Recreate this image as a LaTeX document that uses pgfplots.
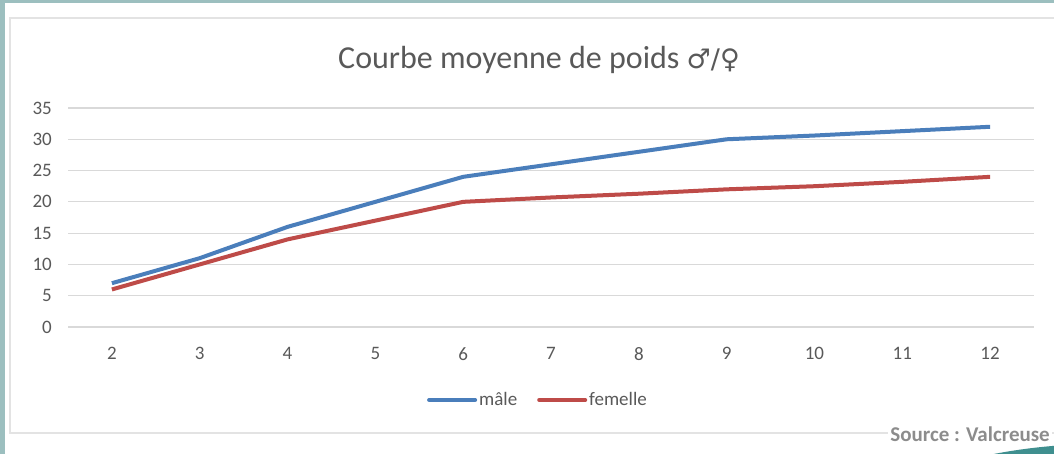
\documentclass[border=0pt]{standalone}
\usepackage{pgfplots}
\pgfplotsset{compat=1.18}
\usepackage{fontspec}
\setmainfont{Carlito}
\newfontfamily\symfont{DejaVu Sans}
\definecolor{bgteal}{HTML}{9CBFBF}
\definecolor{darkteal}{HTML}{3F8F8F}
\definecolor{txtgray}{HTML}{595959}
\definecolor{gridgray}{HTML}{D9D9D9}
\definecolor{borderg}{HTML}{E3E3E3}
\definecolor{mblue}{HTML}{4A7EBB}
\definecolor{fred}{HTML}{BE4B48}
\definecolor{srcgray}{HTML}{8C8C8C}
\begin{document}
\begin{tikzpicture}[x=1pt,y=1pt]
\path[use as bounding box] (0,0) rectangle (1054,454);
\fill[bgteal] (0,0) rectangle (1054,454);
\fill[white] (5,0) rectangle (1054,451);
\draw[borderg, line width=1.5pt] (1056,436) -- (10,436) -- (10,21) -- (1056,21);
\fill[darkteal] (1100,-553) circle (563);
\node[anchor=base, text=txtgray, font=\fontsize{32}{36}\selectfont] at (539,385) {Courbe moyenne de poids {\symfont\fontsize{27}{30}\selectfont ♂/♀}};
\begin{axis}[
  at={(68pt,127pt)}, anchor=south west,
  scale only axis, width=966pt, height=219pt,
  xmin=1.5, xmax=12.5, ymin=0, ymax=35,
  xtick={2,3,4,5,6,7,8,9,10,11,12},
  ytick={0,5,10,15,20,25,30,35},
  ymajorgrids, grid style={gridgray, line width=1.2pt},
  axis line style={draw=none},
  major tick style={draw=none},
  /pgf/number format/assume math mode=true,
  tick label style={text=txtgray, font=\fontsize{19}{22}\selectfont},
  yticklabel style={anchor=east, inner sep=0pt, xshift=-16pt},
  xticklabel style={anchor=north, inner sep=0pt, yshift=-20pt},
  legend style={draw=none, fill=none, at={(0.4865,-0.333)}, anchor=center,
    font=\fontsize{19}{22}\selectfont, text=txtgray,
    /tikz/every even column/.append style={column sep=18pt},
    cells={anchor=west}},
  legend columns=2,
  legend image code/.code={\draw[#1, line cap=round] (0pt,0pt) -- (46pt,0pt);},
  clip=false,
]
\addplot[mblue, line width=4pt, line join=round] coordinates {
(2,7) (3,11) (4,16) (5,20) (6,24) (7,26) (8,28) (9,30) (10,30.6) (11,31.3) (12,32)};
\addlegendentry{mâle}
\addplot[fred, line width=4pt, line join=round] coordinates {
(2,6) (3,10) (4,14) (5,17) (6,20) (7,20.7) (8,21.3) (9,22) (10,22.5) (11,23.2) (12,24)};
\addlegendentry{femelle}
\end{axis}
\node[anchor=base east, fill=white, inner sep=2pt, text=srcgray, font=\bfseries\fontsize{21}{24}\selectfont] at (1052,12) {Source : Valcreuse};
\end{tikzpicture}
\end{document}
